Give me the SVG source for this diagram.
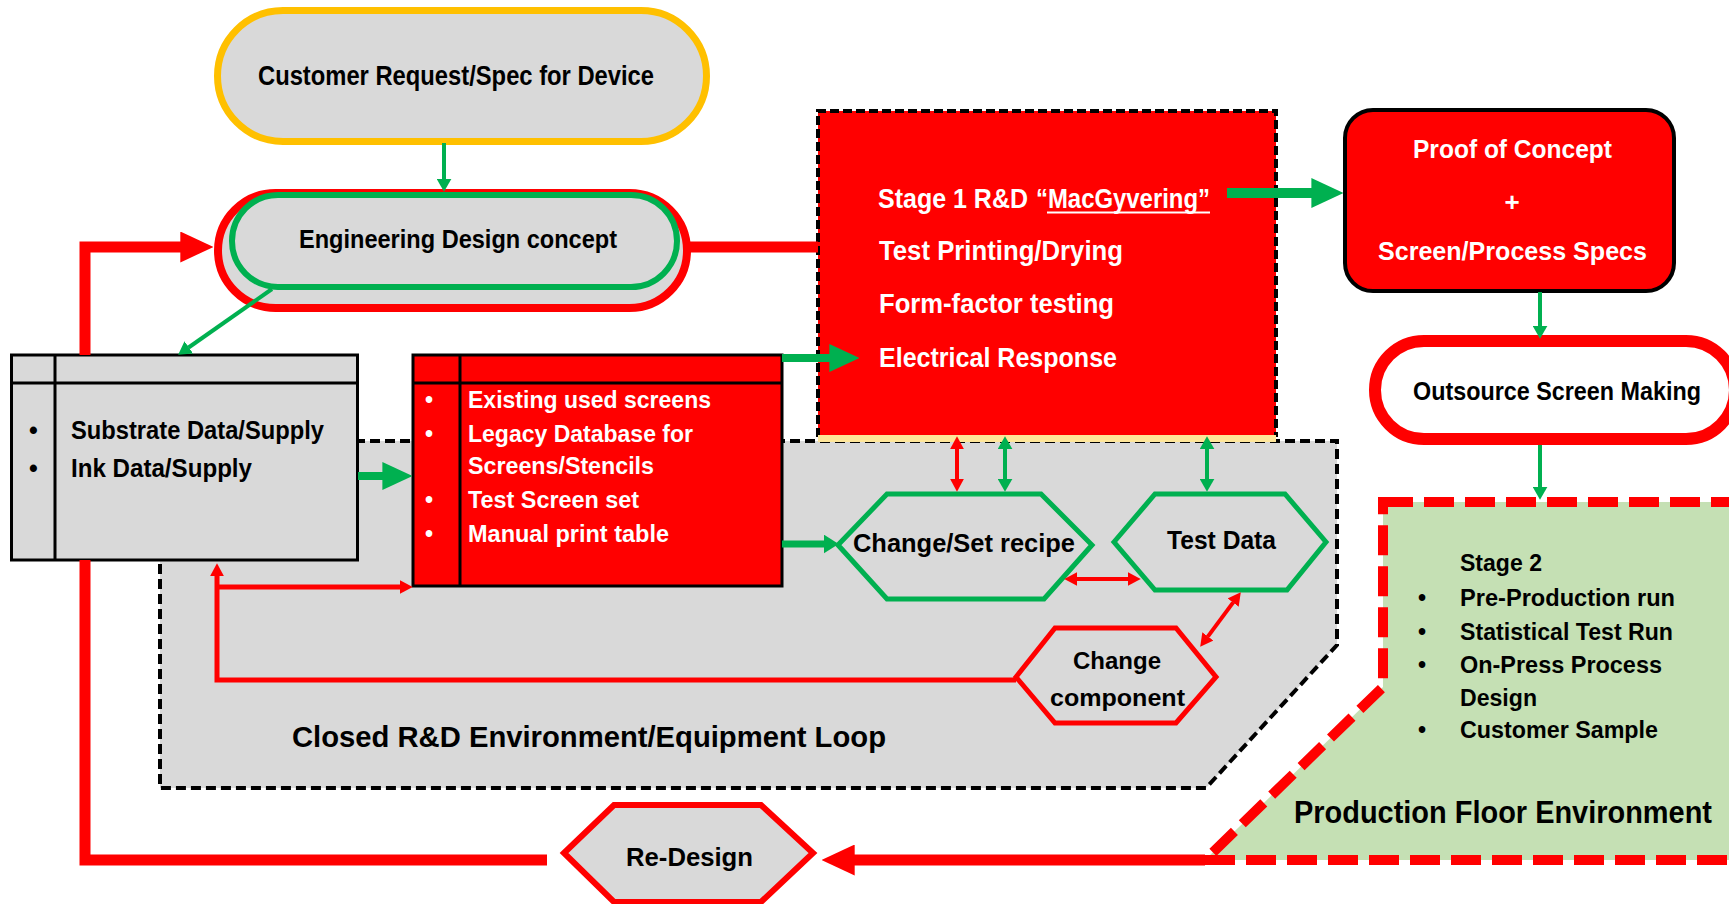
<svg xmlns="http://www.w3.org/2000/svg" width="1729" height="904" viewBox="0 0 1729 904">
  <style>
    .t { font-family: "Liberation Sans Narrow", "Liberation Sans", Arial, sans-serif; font-weight: bold; }
    .k { fill: #000; }
    .w { fill: #fff; }
    .ln { fill: none; stroke-linejoin: miter; }
    .gThin { stroke: #00B050; stroke-width: 4; }
    .rThin { stroke: #FF0000; stroke-width: 5; }
    .gBold { stroke: #00B050; stroke-width: 8; }
    .rBold { stroke: #FF0000; stroke-width: 11; }
  </style>
  <defs>
    <marker id="gS" viewBox="0 0 10 10" refX="0.2" refY="5" markerWidth="13" markerHeight="15" markerUnits="userSpaceOnUse" preserveAspectRatio="none" orient="auto-start-reverse">
      <path d="M0,0 L10,5 L0,10 Z" fill="#00B050"/>
    </marker>
    <marker id="gM" viewBox="0 0 10 10" refX="0.2" refY="5" markerWidth="15" markerHeight="19" markerUnits="userSpaceOnUse" preserveAspectRatio="none" orient="auto-start-reverse">
      <path d="M0,0 L10,5 L0,10 Z" fill="#00B050"/>
    </marker>
    <marker id="gL" viewBox="0 0 10 10" refX="0.2" refY="5" markerWidth="30" markerHeight="28" markerUnits="userSpaceOnUse" preserveAspectRatio="none" orient="auto-start-reverse">
      <path d="M0,0 L10,5 L0,10 Z" fill="#00B050"/>
    </marker>
    <marker id="gXL" viewBox="0 0 10 10" refX="0.2" refY="5" markerWidth="32" markerHeight="30" markerUnits="userSpaceOnUse" preserveAspectRatio="none" orient="auto-start-reverse">
      <path d="M0,0 L10,5 L0,10 Z" fill="#00B050"/>
    </marker>
    <marker id="rS" viewBox="0 0 10 10" refX="0.2" refY="5" markerWidth="13" markerHeight="14" markerUnits="userSpaceOnUse" preserveAspectRatio="none" orient="auto-start-reverse">
      <path d="M0,0 L10,5 L0,10 Z" fill="#FF0000"/>
    </marker>
    <marker id="rL" viewBox="0 0 10 10" refX="0.2" refY="5" markerWidth="33" markerHeight="31" markerUnits="userSpaceOnUse" preserveAspectRatio="none" orient="auto-start-reverse">
      <path d="M0,0 L10,5 L0,10 Z" fill="#FF0000"/>
    </marker>
  </defs>

  <rect x="0" y="0" width="1729" height="904" fill="#fff"/>

  <!-- environment zones -->
  <g id="closed-loop-zone">
    <path d="M160,441 H1337 V645 L1206,788 H160 Z" fill="#D9D9D9" stroke="#000" stroke-width="4" stroke-dasharray="10 5"/>
    <text class="t k" x="292" y="747" font-size="29" textLength="594" lengthAdjust="spacingAndGlyphs">Closed R&amp;D Environment/Equipment Loop</text>
  </g>
  <g id="production-zone">
    <path d="M1383,502 H1745 V860 H1205 L1383,687 Z" fill="#C5E0B4" stroke="#FF0000" stroke-width="10" stroke-dasharray="30 11"/>
    <text class="t k" x="1460" y="571" font-size="23" textLength="82" lengthAdjust="spacingAndGlyphs">Stage 2</text>
    <g class="t k" font-size="23">
      <text x="1418" y="606">•</text>
      <text x="1418" y="640">•</text>
      <text x="1418" y="673">•</text>
      <text x="1418" y="738">•</text>
      <text x="1460" y="606" textLength="215" lengthAdjust="spacingAndGlyphs">Pre-Production run</text>
      <text x="1460" y="640" textLength="213" lengthAdjust="spacingAndGlyphs">Statistical Test Run</text>
      <text x="1460" y="673" textLength="202" lengthAdjust="spacingAndGlyphs">On-Press Process</text>
      <text x="1460" y="706" textLength="77" lengthAdjust="spacingAndGlyphs">Design</text>
      <text x="1460" y="738" textLength="198" lengthAdjust="spacingAndGlyphs">Customer Sample</text>
    </g>
    <text class="t k" x="1294" y="823" font-size="31" textLength="418" lengthAdjust="spacingAndGlyphs">Production Floor Environment</text>
  </g>

  <!-- nodes -->
  <g id="customer-request">
    <rect x="217.5" y="10.5" width="489" height="131" rx="65.5" fill="#D9D9D9" stroke="#FFC000" stroke-width="7"/>
    <text class="t k" x="258" y="85" font-size="28" textLength="396" lengthAdjust="spacingAndGlyphs">Customer Request/Spec for Device</text>
  </g>

  <g id="engineering-design">
    <rect x="218" y="193" width="469" height="115" rx="57.5" fill="#D9D9D9" stroke="#FF0000" stroke-width="8"/>
    <rect x="232" y="195" width="445" height="92" rx="46" fill="#D9D9D9" stroke="#00B050" stroke-width="6"/>
    <text class="t k" x="299" y="248" font-size="26" textLength="318" lengthAdjust="spacingAndGlyphs">Engineering Design concept</text>
  </g>

  <g id="supply-data">
    <rect x="11.5" y="355" width="346" height="205" fill="#D9D9D9" stroke="#000" stroke-width="3"/>
    <path d="M11.5,383 H357.5 M55,355 V560" stroke="#000" stroke-width="3" fill="none"/>
    <g class="t k" font-size="25">
      <text x="29" y="439">•</text>
      <text x="29" y="477">•</text>
      <text x="71" y="439" textLength="253" lengthAdjust="spacingAndGlyphs">Substrate Data/Supply</text>
      <text x="71" y="477" textLength="181" lengthAdjust="spacingAndGlyphs">Ink Data/Supply</text>
    </g>
  </g>

  <g id="screen-resources">
    <rect x="413" y="355" width="369" height="231" fill="#FF0000" stroke="#000" stroke-width="3"/>
    <path d="M413,383 H782 M460,355 V586" stroke="#000" stroke-width="3" fill="none"/>
    <g class="t w" font-size="23">
      <text x="425" y="408">•</text>
      <text x="425" y="442">•</text>
      <text x="425" y="508">•</text>
      <text x="425" y="542">•</text>
      <text x="468" y="408" textLength="243" lengthAdjust="spacingAndGlyphs">Existing used screens</text>
      <text x="468" y="442" textLength="225" lengthAdjust="spacingAndGlyphs">Legacy Database for</text>
      <text x="468" y="474" textLength="186" lengthAdjust="spacingAndGlyphs">Screens/Stencils</text>
      <text x="468" y="508" textLength="171" lengthAdjust="spacingAndGlyphs">Test Screen set</text>
      <text x="468" y="542" textLength="201" lengthAdjust="spacingAndGlyphs">Manual print table</text>
    </g>
  </g>

  <g id="stage1-rnd">
    <rect x="818" y="111" width="458" height="326" fill="#FF0000"/>
    <path d="M818,437 V111 H1276 V437" fill="none" stroke="#000" stroke-width="4" stroke-dasharray="9 4"/>
    <rect x="818" y="435" width="458" height="7" fill="#FFE699"/>
    <g class="t w" font-size="28">
      <text x="878" y="208" textLength="150" lengthAdjust="spacingAndGlyphs">Stage 1 R&amp;D</text>
      <text x="1036" y="208" textLength="174" lengthAdjust="spacingAndGlyphs">“MacGyvering”</text>
      <text x="879" y="260" textLength="244" lengthAdjust="spacingAndGlyphs">Test Printing/Drying</text>
      <text x="879" y="313" textLength="235" lengthAdjust="spacingAndGlyphs">Form-factor testing</text>
      <text x="879" y="367" textLength="238" lengthAdjust="spacingAndGlyphs">Electrical Response</text>
    </g>
    <!-- underline beneath the nickname -->
    <path d="M1047,212.5 H1210" stroke="#fff" stroke-width="2"/>
  </g>

  <g id="proof-of-concept">
    <rect x="1345" y="110" width="329" height="181" rx="28" fill="#FF0000" stroke="#000" stroke-width="4"/>
    <g class="t w" font-size="26">
      <text x="1413" y="158" textLength="199" lengthAdjust="spacingAndGlyphs">Proof of Concept</text>
      <text x="1512" y="211" text-anchor="middle">+</text>
      <text x="1378" y="260" textLength="269" lengthAdjust="spacingAndGlyphs">Screen/Process Specs</text>
    </g>
  </g>

  <g id="outsource-screens">
    <rect x="1375" y="341" width="360" height="98" rx="49" fill="#fff" stroke="#FF0000" stroke-width="12"/>
    <text class="t k" x="1413" y="400" font-size="26" textLength="288" lengthAdjust="spacingAndGlyphs">Outsource Screen Making</text>
  </g>

  <g id="change-recipe">
    <polygon points="838,545 887,494 1041,494 1092,545 1044,599 887,599" fill="#D9D9D9" stroke="#00B050" stroke-width="5"/>
    <text class="t k" x="853" y="552" font-size="25" textLength="222" lengthAdjust="spacingAndGlyphs">Change/Set recipe</text>
  </g>

  <g id="test-data">
    <polygon points="1114,542 1155,494 1285,494 1326,542 1287,590 1155,590" fill="#D9D9D9" stroke="#00B050" stroke-width="5"/>
    <text class="t k" x="1167" y="549" font-size="25" textLength="109" lengthAdjust="spacingAndGlyphs">Test Data</text>
  </g>

  <g id="change-component">
    <polygon points="1016,677 1055,628 1176,628 1216,677 1176,723 1055,723" fill="#D9D9D9" stroke="#FF0000" stroke-width="5"/>
    <text class="t k" x="1073" y="669" font-size="24" textLength="88" lengthAdjust="spacingAndGlyphs">Change</text>
    <text class="t k" x="1050" y="706" font-size="24" textLength="135" lengthAdjust="spacingAndGlyphs">component</text>
  </g>

  <g id="re-design">
    <polygon points="564,853 614,805 761,805 813,853 761,902 614,902" fill="#D9D9D9" stroke="#FF0000" stroke-width="6"/>
    <text class="t k" x="626" y="866" font-size="25" textLength="127" lengthAdjust="spacingAndGlyphs">Re-Design</text>
  </g>

  <!-- connectors -->
  <g id="connectors">
    <path class="ln gThin" d="M444,143 V179" marker-end="url(#gS)"/>
    <path class="ln gThin" d="M272,289 L188.6,347.5" marker-end="url(#gS)"/>
    <path class="ln gThin" d="M1540,292 V326" marker-end="url(#gS)"/>
    <path class="ln gThin" d="M1540,445 V487" marker-end="url(#gS)"/>

    <path class="ln gBold" d="M358,476 H383" marker-end="url(#gL)"/>
    <path class="ln gBold" d="M782,358 H830" marker-end="url(#gL)"/>
    <path class="ln" stroke="#00B050" stroke-width="7" d="M782,544 H824" marker-end="url(#gM)"/>
    <path class="ln" stroke="#00B050" stroke-width="10" d="M1227,193 H1312" marker-end="url(#gXL)"/>

    <path class="ln" stroke="#FF0000" stroke-width="4" d="M957,449 V479" marker-start="url(#rS)" marker-end="url(#rS)"/>
    <path class="ln" stroke="#00B050" stroke-width="4" d="M1005,449 V479" marker-start="url(#gS)" marker-end="url(#gS)"/>
    <path class="ln" stroke="#00B050" stroke-width="4" d="M1207,449 V479" marker-start="url(#gS)" marker-end="url(#gS)"/>
    <path class="ln" stroke="#FF0000" stroke-width="4" d="M1077,579 H1128" marker-start="url(#rS)" marker-end="url(#rS)"/>
    <path class="ln" stroke="#FF0000" stroke-width="4" d="M1233.2,602.4 L1207.8,636.6" marker-start="url(#rS)" marker-end="url(#rS)"/>

    <path class="ln rThin" d="M1016,680 H217 V576" marker-end="url(#rS)"/>
    <path class="ln rThin" d="M217,587 H400" marker-end="url(#rS)"/>

    <path class="ln rBold" d="M689,247 H818"/>
    <path class="ln rBold" d="M1205,860 H854" marker-end="url(#rL)"/>
    <path class="ln rBold" d="M547,860 H85 V560"/>
    <path class="ln rBold" d="M85,355 V247 H181" marker-end="url(#rL)"/>
  </g>
</svg>
